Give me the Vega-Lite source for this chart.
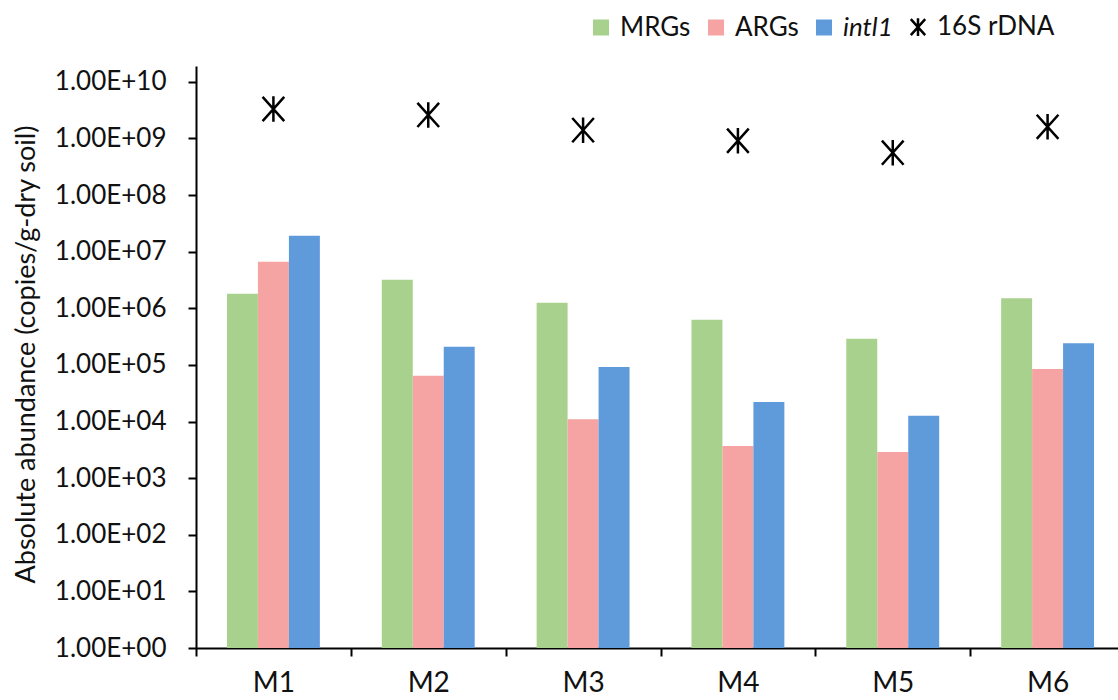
{
  "$schema": "https://vega.github.io/schema/vega-lite/v6.json",
  "autosize": {"type": "none"},
  "padding": {"left": 196, "top": 66, "right": 0, "bottom": 52},
  "width": 929,
  "height": 582,
  "background": "white",
  "config": {
    "font": "Lato",
    "view": {"stroke": null},
    "axis": {"grid": false, "domainColor": "#000000", "tickColor": "#000000", "domainWidth": 2, "tickWidth": 2, "labelColor": "#111111", "titleColor": "#111111", "labelFont": "Lato", "titleFont": "Lato"}
  },
  "data": {
    "values": [
      {"sample": "M1", "series": "MRGs", "value": 1800000},
      {"sample": "M1", "series": "ARGs", "value": 6600000},
      {"sample": "M1", "series": "intl1", "value": 19000000},
      {"sample": "M1", "series": "16S rDNA", "value": 3300000000},
      {"sample": "M2", "series": "MRGs", "value": 3200000},
      {"sample": "M2", "series": "ARGs", "value": 64000},
      {"sample": "M2", "series": "intl1", "value": 210000},
      {"sample": "M2", "series": "16S rDNA", "value": 2600000000},
      {"sample": "M3", "series": "MRGs", "value": 1250000},
      {"sample": "M3", "series": "ARGs", "value": 11000},
      {"sample": "M3", "series": "intl1", "value": 92000},
      {"sample": "M3", "series": "16S rDNA", "value": 1400000000},
      {"sample": "M4", "series": "MRGs", "value": 630000},
      {"sample": "M4", "series": "ARGs", "value": 3700},
      {"sample": "M4", "series": "intl1", "value": 22000},
      {"sample": "M4", "series": "16S rDNA", "value": 910000000},
      {"sample": "M5", "series": "MRGs", "value": 290000},
      {"sample": "M5", "series": "ARGs", "value": 2900},
      {"sample": "M5", "series": "intl1", "value": 12600},
      {"sample": "M5", "series": "16S rDNA", "value": 560000000},
      {"sample": "M6", "series": "MRGs", "value": 1500000},
      {"sample": "M6", "series": "ARGs", "value": 85000},
      {"sample": "M6", "series": "intl1", "value": 240000},
      {"sample": "M6", "series": "16S rDNA", "value": 1600000000}
    ]
  },
  "encoding": {
    "x": {
      "field": "sample", "type": "nominal", "sort": ["M1","M2","M3","M4","M5","M6"],
      "scale": {"paddingInner": 0, "paddingOuter": 0},
      "axis": {"title": null, "labelAngle": 0, "labelFontSize": 28, "labelPadding": 13, "tickSize": 8, "tickBand": "extent"}
    },
    "y": {
      "field": "value", "type": "quantitative",
      "scale": {"type": "log", "domain": [1, 19000000000], "nice": false},
      "axis": {
        "title": "Absolute abundance (copies/g-dry soil)",
        "titleFontSize": 27, "titleFontWeight": "normal",
        "titleX": -170, "titleY": 288, "titleAngle": -90, "titleAlign": "center", "titleBaseline": "middle",
        "values": [1, 10, 100, 1000, 10000, 100000, 1000000, 10000000, 100000000, 1000000000, 10000000000],
        "labelExpr": "'1.00E+' + (round(log(datum.value)/LN10) < 10 ? '0' : '') + round(log(datum.value)/LN10)",
        "labelFontSize": 26, "labelPadding": 22, "tickSize": 8
      }
    }
  },
  "layer": [
    {
      "transform": [{"filter": "datum.series !== '16S rDNA'"}],
      "mark": {"type": "bar"},
      "encoding": {
        "xOffset": {"field": "series", "type": "nominal", "sort": ["MRGs","ARGs","intl1"], "scale": {"domain": ["MRGs","ARGs","intl1"], "paddingInner": 0, "paddingOuter": 1.08}},
        "y": {"field": "value", "type": "quantitative", "stack": null},
        "color": {
          "field": "series", "type": "nominal",
          "scale": {"domain": ["MRGs","ARGs","intl1","16S rDNA"], "range": ["#a9d18e","#f5a3a3","#5f9bdb","#000000"]},
          "legend": {
            "title": null, "orient": "none", "direction": "horizontal",
            "legendX": 392, "legendY": -52,
            "symbolSize": 256, "symbolType": "square",
            "labelFontSize": 26, "labelFont": "Lato", "labelColor": "#111111",
            "labelOffset": 6, "columnPadding": 12, "padding": 0,
            "encode": {
              "symbols": {"update": {
                "shape": {"signal": "datum.value === '16S rDNA' ? 'M-0.9,-1L0.9,1M0.9,-1L-0.9,1M0,-1.1L0,1.1' : 'square'"},
                "fill": {"signal": "datum.value === '16S rDNA' ? 'transparent' : scale('color', datum.value)"},
                "stroke": {"signal": "datum.value === '16S rDNA' ? '#000000' : 'transparent'"},
                "strokeWidth": {"value": 2.5},
                "opacity": {"value": 1}
              }},
              "labels": {"update": {
                "fontStyle": {"signal": "datum.value === 'intl1' ? 'italic' : 'normal'"}
              }}
            }
          }
        }
      }
    },
    {
      "transform": [{"filter": "datum.series === '16S rDNA'"}],
      "mark": {"type": "point", "shape": "M-0.85,-0.95L0.85,0.95M0.85,-0.95L-0.85,0.95M0,-1L0,1", "filled": false, "stroke": "#000000", "strokeWidth": 2.5, "size": 650, "opacity": 1},
      "encoding": {}
    }
  ]
}
